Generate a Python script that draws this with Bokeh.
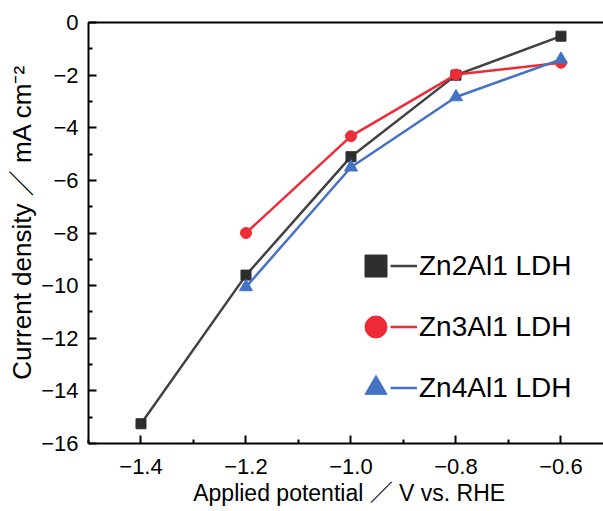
from bokeh.plotting import figure
from bokeh.models import Range1d, LinearAxis, Legend, LegendItem, FixedTicker
from bokeh.embed import file_html
from bokeh.resources import INLINE

# ---- data ----
potential = [-1.4, -1.2, -1.0, -0.8, -0.6]
zn2al1 = [-15.25, -9.6, -5.1, -2.0, -0.52]
zn3al1_x = [-1.2, -1.0, -0.8, -0.6]
zn3al1 = [-8.0, -4.32, -1.98, -1.53]
zn4al1_x = [-1.2, -1.0, -0.8, -0.6]
zn4al1 = [-10.05, -5.5, -2.83, -1.4]

series_names = ["Zn2Al1 LDH", "Zn3Al1 LDH", "Zn4Al1 LDH"]

x_major = [-1.4, -1.2, -1.0, -0.8, -0.6]
x_minor = [-1.5, -1.3, -1.1, -0.9, -0.7, -0.5]
x_tick_labels = ["\u22121.4", "\u22121.2", "\u22121.0", "\u22120.8", "\u22120.6"]
y_major = [0, -2, -4, -6, -8, -10, -12, -14, -16]
y_minor = [-1, -3, -5, -7, -9, -11, -13, -15]
y_tick_labels = ["0", "\u22122", "\u22124", "\u22126", "\u22128", "\u221210", "\u221212", "\u221214", "\u221216"]

FONT = "'Liberation Sans', 'Noto Sans CJK JP', sans-serif"

p = figure(width=603, height=511, x_range=Range1d(-1.5, -0.519), y_range=Range1d(-16, 0),
           output_backend="svg", toolbar_location=None,
           min_border_left=88, min_border_right=0, min_border_top=22, min_border_bottom=68)
p.grid.visible = False
p.outline_line_color = None
p.background_fill_color = "white"
p.border_fill_color = "white"

for ax in (p.xaxis[0], p.yaxis[0]):
    ax.axis_line_width = 2
    ax.axis_line_color = "black"
    ax.major_tick_line_width = 2
    ax.minor_tick_line_width = 2
    ax.major_tick_in = 8
    ax.major_tick_out = 0
    ax.minor_tick_in = 4
    ax.minor_tick_out = 0
    ax.major_label_text_font = FONT
    ax.major_label_text_font_size = "22px"
    ax.major_label_text_color = "black"
    ax.axis_label_text_font = FONT
    ax.axis_label_text_font_style = "normal"
    ax.axis_label_text_color = "black"

p.xaxis.ticker = FixedTicker(ticks=x_major, minor_ticks=x_minor)
p.xaxis.major_label_overrides = {t: s for t, s in zip(x_major, x_tick_labels)}
p.xaxis.axis_label = "\u00a0Applied potential \uff0f V vs. RHE"
p.xaxis.axis_label_text_font_size = "23px"
p.xaxis.major_label_standoff = 15
p.xaxis.axis_label_standoff = 3

p.yaxis.ticker = FixedTicker(ticks=y_major, minor_ticks=y_minor)
p.yaxis.major_label_overrides = {t: s for t, s in zip(y_major, y_tick_labels)}
p.yaxis.axis_label = "\u00a0\u00a0\u00a0Current density \uff0f mA cm\u207b\u00b2"
p.yaxis.axis_label_text_font_size = "26px"
p.yaxis.major_label_standoff = 10
p.yaxis.axis_label_standoff = 1

# top border line
top = LinearAxis(ticker=FixedTicker(ticks=[]), major_label_text_font_size="0px",
                 major_tick_line_color=None, minor_tick_line_color=None,
                 axis_line_width=2, axis_line_color="black", major_label_standoff=0)
p.add_layout(top, "above")

black_line = "#424242"
black_mk = "#2e2e2e"
red = "#EE2B36"
blue = "#4472C4"

l1 = p.line(potential, zn2al1, line_color=black_line, line_width=2.5)
s1 = p.scatter(potential, zn2al1, marker="square", size=10, fill_color=black_mk, line_color=black_mk)

l2 = p.line(zn3al1_x, zn3al1, line_color=red, line_width=2.5)
s2 = p.scatter(zn3al1_x, zn3al1, marker="circle", size=11, fill_color=red, line_color=red)

l3 = p.line(zn4al1_x, zn4al1, line_color=blue, line_width=2.5)
s3 = p.scatter(zn4al1_x, zn4al1, marker="triangle", size=13, fill_color=blue, line_color=blue)

leg_markers = Legend(items=[LegendItem(label="", renderers=[r]) for r in (s1, s2, s3)],
                     location=(260, 25), glyph_width=55, glyph_height=61, spacing=0,
                     padding=0, margin=0, label_width=0, label_standoff=0,
                     label_text_font_size="1px", border_line_color=None,
                     background_fill_alpha=0)
leg_lines = Legend(items=[LegendItem(label=n, renderers=[r]) for n, r in zip(series_names, (l1, l2, l3))],
                   location=(302, 25), glyph_width=27, glyph_height=61, spacing=0,
                   padding=0, margin=0, label_standoff=2,
                   label_text_font=FONT, label_text_font_size="28px", label_text_color="black",
                   border_line_color=None, background_fill_alpha=0)
p.add_layout(leg_markers, "center")
p.add_layout(leg_lines, "center")

open("out.html", "w").write(file_html(p, INLINE))
